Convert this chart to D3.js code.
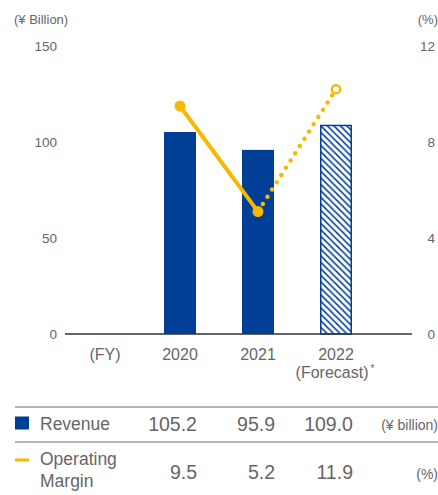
<!DOCTYPE html>
<html>
<head>
<meta charset="utf-8">
<script src="https://cdn.jsdelivr.net/npm/d3@7"></script>
<style>
  body { margin: 0; background: #fff; }
  svg { display: block; font-family: "Liberation Sans", Arial, sans-serif; }
</style>
</head>
<body>
<svg width="438" height="495"></svg>
<script>
    'use strict';
    // chart data
    const categories = ['(FY)', '2020', '2021', '2022'];
    const years = ['2020', '2021', '2022'];
    const revenue = [105.2, 95.9, 109.0];
    const margin = [9.5, 5.2, 11.9];
    // where the margin points sit in the picture (2022 point is drawn lower than its label)
    const marginPlotted = [9.5, 5.1, 10.2];
    const forecast = [false, false, true];
    const leftTicks = [0, 50, 100, 150];
    const rightTicks = [0, 4, 8, 12];

    const blue = '#003f98';
    const yellow = '#f6b900';
    const grey = '#666';

    const svg = d3.select('svg');

    const x = d3.scaleBand()
      .domain(categories)
      .range([63, 375])
      .paddingInner(0.59)
      .paddingOuter(0.295);
    const cx = d => x(d) + x.bandwidth() / 2;

    const yL = d3.scaleLinear().domain([0, 150]).range([334, 46]);
    const yR = d3.scaleLinear().domain([0, 12]).range([334, 46]);

    // hatch pattern for forecast bar
    const defs = svg.append('defs');
    const pat = defs.append('pattern')
      .attr('id', 'hatch')
      .attr('patternUnits', 'userSpaceOnUse')
      .attr('width', 6.5)
      .attr('height', 6.5);
    pat.append('rect').attr('width', 6.5).attr('height', 6.5).attr('fill', '#fff');
    pat.append('path')
      .attr('d', 'M-1,-1 L7.5,7.5 M-1,5.5 L1,7.5 M5.5,-1 L7.5,1')
      .attr('stroke', blue)
      .attr('stroke-width', 1.5);

    // unit labels
    svg.append('text').attr('x', 14).attr('y', 24)
      .attr('font-size', 13).attr('fill', grey).text('(¥ Billion)');
    svg.append('text').attr('x', 438).attr('y', 24).attr('text-anchor', 'end')
      .attr('font-size', 13).attr('fill', grey).text('(%)');

    // left axis
    const leftAxis = svg.append('g')
      .attr('transform', 'translate(57,0)')
      .call(d3.axisLeft(yL).tickValues(leftTicks).tickSize(0).tickPadding(0));
    leftAxis.select('.domain').remove();
    leftAxis.selectAll('text').attr('font-size', 13.5).attr('fill', grey)
      .attr('font-family', '"Liberation Sans", Arial, sans-serif');

    // right axis
    const rightAxis = svg.append('g')
      .attr('transform', 'translate(435,0)')
      .call(d3.axisLeft(yR).tickValues(rightTicks).tickSize(0).tickPadding(0));
    rightAxis.select('.domain').remove();
    rightAxis.selectAll('text').attr('font-size', 13.5).attr('fill', grey)
      .attr('font-family', '"Liberation Sans", Arial, sans-serif');

    // bars
    svg.append('g').selectAll('rect')
      .data(years)
      .join('rect')
      .attr('x', (d, i) => x(d) + (forecast[i] ? 0.75 : 0))
      .attr('y', (d, i) => yL(revenue[i]) + (forecast[i] ? 0.75 : 0))
      .attr('width', (d, i) => x.bandwidth() - (forecast[i] ? 1.5 : 0))
      .attr('height', (d, i) => yL(0) - yL(revenue[i]) - (forecast[i] ? 0.75 : 0))
      .attr('fill', (d, i) => forecast[i] ? 'url(#hatch)' : blue)
      .attr('stroke', (d, i) => forecast[i] ? blue : 'none')
      .attr('stroke-width', 1.5);

    // baseline
    svg.append('line')
      .attr('x1', 65).attr('x2', 412)
      .attr('y1', yL(0)).attr('y2', yL(0))
      .attr('stroke', '#333').attr('stroke-width', 1.3);

    // x labels
    svg.append('g').selectAll('text')
      .data(categories)
      .join('text')
      .attr('x', d => cx(d) + (d === '(FY)' ? 3 : 0))
      .attr('y', 360)
      .attr('text-anchor', 'middle')
      .attr('font-size', 16).attr('fill', grey)
      .text(d => d);
    const fc = svg.append('text')
      .attr('x', cx('2022') - 1).attr('y', 378)
      .attr('text-anchor', 'middle')
      .attr('font-size', 16).attr('fill', grey);
    fc.append('tspan').text('(Forecast)');
    fc.append('tspan').attr('dy', -6).attr('dx', 2).attr('font-size', 10).text('*');

    // margin line
    const pts = years.map((d, i) => [cx(d), yR(marginPlotted[i])]);
    const line = d3.line();
    svg.append('path')
      .attr('d', line(pts.slice(0, 2)))
      .attr('fill', 'none').attr('stroke', yellow)
      .attr('stroke-width', 4);
    // dotted forecast segment
    const a = pts[1], b = pts[2];
    const len = Math.hypot(b[0] - a[0], b[1] - a[1]);
    const ux = (b[0] - a[0]) / len, uy = (b[1] - a[1]) / len;
    svg.append('path')
      .attr('d', line([[a[0] + ux * 9, a[1] + uy * 9], [b[0] - ux * 6, b[1] - uy * 6]]))
      .attr('fill', 'none').attr('stroke', yellow)
      .attr('stroke-width', 4.5)
      .attr('stroke-linecap', 'round')
      .attr('stroke-dasharray', '0,8.6');

    svg.append('g').selectAll('circle')
      .data(years)
      .join('circle')
      .attr('cx', d => cx(d))
      .attr('cy', (d, i) => yR(marginPlotted[i]))
      .attr('r', (d, i) => forecast[i] ? 4.2 : 5.5)
      .attr('fill', (d, i) => forecast[i] ? '#fff' : yellow)
      .attr('stroke', yellow)
      .attr('stroke-width', (d, i) => forecast[i] ? 2.4 : 0);

    // data table
    const rule = '#9a9a9a';
    [407, 442].forEach(yy => {
      svg.append('line')
        .attr('x1', 15).attr('x2', 438)
        .attr('y1', yy).attr('y2', yy)
        .attr('stroke', rule).attr('stroke-width', 1.5);
    });

    svg.append('rect').attr('x', 15).attr('y', 416.5).attr('width', 14).attr('height', 13).attr('fill', blue);
    svg.append('text').attr('x', 40).attr('y', 430)
      .attr('font-size', 17.5).attr('fill', grey).text('Revenue');
    svg.append('g').selectAll('text')
      .data(years)
      .join('text')
      .attr('x', d => x(d) + x.bandwidth() + 1)
      .attr('y', 430.5)
      .attr('text-anchor', 'end')
      .attr('font-size', 19.5).attr('fill', grey)
      .text((d, i) => revenue[i].toFixed(1));
    svg.append('text').attr('x', 438).attr('y', 430).attr('text-anchor', 'end')
      .attr('font-size', 14).attr('fill', grey).text('(¥ billion)');

    svg.append('rect').attr('x', 15).attr('y', 458.5).attr('width', 14).attr('height', 3).attr('fill', yellow);
    svg.append('text').attr('x', 40).attr('y', 465)
      .attr('font-size', 17.5).attr('fill', grey).text('Operating');
    svg.append('text').attr('x', 40).attr('y', 487)
      .attr('font-size', 17.5).attr('fill', grey).text('Margin');
    svg.append('g').selectAll('text')
      .data(years)
      .join('text')
      .attr('x', d => x(d) + x.bandwidth() + 1)
      .attr('y', 479)
      .attr('text-anchor', 'end')
      .attr('font-size', 19.5).attr('fill', grey)
      .text((d, i) => margin[i].toFixed(1));
    svg.append('text').attr('x', 438).attr('y', 479).attr('text-anchor', 'end')
      .attr('font-size', 14).attr('fill', grey).text('(%)');
</script>
</body>
</html>
